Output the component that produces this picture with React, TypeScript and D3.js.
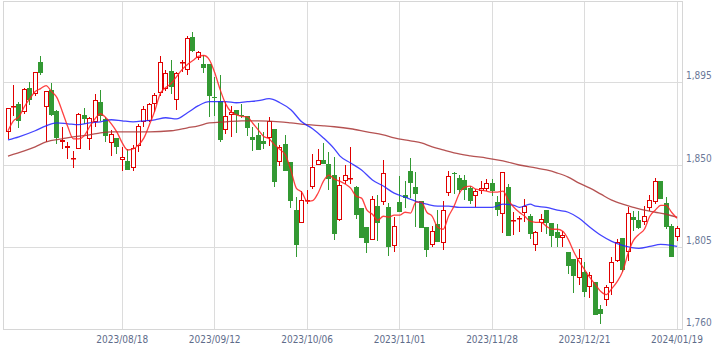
import React, { useEffect, useRef } from 'react';
import * as d3 from 'd3';

// daily candles, oldest first
const openPrices = [
  1868.1, 1881.8, 1883.5, 1879.1, 1892.3, 1889.0, 1906.0, 1881.8, 1891.2, 1879.6,
  1862.6, 1859.3, 1853.3, 1858.8, 1877.4, 1864.3, 1873.6, 1884.6, 1875.2, 1862.1,
  1864.8, 1852.7, 1852.2, 1848.3, 1860.4, 1873.6, 1874.1, 1883.5, 1889.5, 1891.7,
  1901.6, 1885.7, 1906.0, 1902.1, 1919.7, 1908.7, 1905.4, 1904.9, 1887.0, 1885.1,
  1869.2, 1877.4, 1880.2, 1877.1, 1876.9, 1865.4, 1866.5, 1863.2, 1864.8, 1869.8,
  1851.6, 1861.5, 1851.6, 1825.3, 1818.2, 1830.5, 1837.9, 1850.0, 1852.7, 1850.5,
  1844.5, 1819.8, 1841.2, 1842.6, 1837.9, 1826.4, 1816.0, 1808.8, 1827.5, 1829.7,
  1826.9, 1805.5, 1829.7, 1833.5, 1846.7, 1837.9, 1830.2, 1816.0, 1806.1, 1817.6,
  1807.2, 1834.6, 1845.6, 1842.9, 1841.8, 1837.4, 1833.0, 1835.7, 1836.8, 1840.1,
  1829.7, 1823.1, 1837.9, 1819.6, 1820.7, 1823.7, 1822.0, 1806.1, 1818.2, 1825.3,
  1818.2, 1813.2, 1809.9, 1802.3, 1798.4, 1788.5, 1791.8, 1783.6, 1786.3, 1771.5,
  1776.5, 1785.8, 1797.3, 1809.9, 1802.3, 1821.5, 1819.8, 1818.7, 1826.4, 1829.7,
  1841.2, 1829.1, 1816.5, 1810.5
];
const highPrices = [
  1881.3, 1893.9, 1884.6, 1892.3, 1895.6, 1901.0, 1909.3, 1890.6, 1895.0, 1880.2,
  1870.9, 1862.6, 1857.7, 1878.6, 1881.3, 1876.3, 1889.0, 1891.2, 1876.3, 1869.2,
  1864.8, 1859.9, 1858.8, 1861.0, 1872.5, 1882.4, 1884.0, 1889.5, 1909.3, 1902.1,
  1907.1, 1901.0, 1907.6, 1920.2, 1922.4, 1912.0, 1909.8, 1904.9, 1898.3, 1899.4,
  1884.6, 1882.4, 1880.2, 1883.5, 1876.9, 1870.9, 1873.0, 1868.1, 1876.3, 1869.8,
  1861.0, 1866.5, 1851.6, 1832.4, 1835.7, 1836.3, 1856.0, 1858.8, 1862.1, 1857.1,
  1854.4, 1843.4, 1850.0, 1859.9, 1838.5, 1826.4, 1816.0, 1833.0, 1833.5, 1852.7,
  1829.1, 1821.5, 1844.0, 1841.2, 1853.8, 1846.2, 1830.2, 1816.0, 1816.5, 1825.3,
  1830.2, 1846.7, 1846.2, 1844.5, 1844.5, 1838.5, 1836.8, 1841.2, 1842.3, 1842.3,
  1833.0, 1846.2, 1839.6, 1824.2, 1822.0, 1831.3, 1823.1, 1813.8, 1823.1, 1825.3,
  1818.2, 1817.6, 1813.8, 1802.3, 1798.4, 1803.9, 1796.8, 1791.8, 1786.3, 1773.7,
  1784.7, 1799.5, 1809.4, 1809.9, 1826.9, 1824.8, 1824.8, 1827.5, 1833.5, 1842.9,
  1841.2, 1832.4, 1817.6, 1816.5
];
const lowPrices = [
  1864.3, 1876.9, 1870.3, 1878.0, 1882.9, 1887.9, 1898.9, 1862.6, 1876.9, 1861.5,
  1858.8, 1853.3, 1848.3, 1858.8, 1872.5, 1858.2, 1870.9, 1874.1, 1862.6, 1854.9,
  1856.0, 1846.7, 1847.3, 1846.7, 1857.1, 1870.9, 1873.6, 1879.1, 1887.9, 1890.6,
  1889.0, 1880.2, 1901.0, 1898.9, 1911.5, 1907.6, 1900.0, 1876.3, 1876.9, 1862.6,
  1867.0, 1865.4, 1867.6, 1875.8, 1865.9, 1857.7, 1858.2, 1858.8, 1860.4, 1837.9,
  1849.4, 1846.7, 1826.4, 1799.5, 1818.2, 1828.6, 1836.8, 1850.0, 1850.5, 1836.3,
  1808.8, 1819.3, 1839.6, 1839.6, 1820.4, 1809.9, 1801.7, 1808.8, 1808.3, 1828.0,
  1800.1, 1802.3, 1824.2, 1826.4, 1831.9, 1816.0, 1815.4, 1799.5, 1805.0, 1807.7,
  1803.4, 1833.0, 1834.1, 1834.1, 1830.8, 1828.6, 1826.9, 1834.1, 1835.7, 1833.0,
  1822.0, 1812.7, 1811.0, 1811.6, 1813.2, 1818.7, 1809.4, 1802.8, 1813.2, 1812.1,
  1805.0, 1805.0, 1805.0, 1790.7, 1780.3, 1784.7, 1778.1, 1777.6, 1768.2, 1763.3,
  1773.2, 1779.2, 1796.8, 1791.8, 1797.3, 1813.8, 1814.9, 1817.1, 1824.8, 1828.6,
  1831.3, 1814.9, 1799.5, 1808.3
];
const closePrices = [
  1881.3, 1882.4, 1874.1, 1891.7, 1885.7, 1901.0, 1900.0, 1890.6, 1877.4, 1864.8,
  1863.7, 1860.4, 1853.6, 1878.0, 1875.2, 1875.8, 1885.7, 1876.9, 1865.9, 1867.0,
  1859.9, 1854.4, 1847.3, 1859.3, 1871.4, 1880.7, 1883.5, 1888.4, 1906.5, 1900.5,
  1892.8, 1900.5, 1906.5, 1919.1, 1912.0, 1911.5, 1903.2, 1887.9, 1886.6, 1863.7,
  1876.9, 1879.1, 1877.4, 1876.7, 1870.3, 1863.7, 1858.2, 1861.5, 1874.1, 1840.7,
  1859.9, 1846.7, 1830.2, 1806.1, 1830.8, 1830.8, 1848.9, 1852.7, 1850.5, 1842.3,
  1812.1, 1839.0, 1844.5, 1842.9, 1822.6, 1809.9, 1807.2, 1831.3, 1818.2, 1845.6,
  1805.0, 1816.5, 1824.2, 1831.9, 1840.1, 1834.1, 1815.4, 1803.4, 1813.8, 1807.7,
  1825.3, 1844.0, 1845.1, 1836.3, 1836.3, 1830.2, 1835.7, 1837.4, 1840.1, 1835.7,
  1825.3, 1846.2, 1811.0, 1819.8, 1820.9, 1827.5, 1812.1, 1813.2, 1820.4, 1818.2,
  1811.0, 1809.9, 1811.6, 1795.1, 1789.6, 1799.0, 1780.9, 1790.2, 1768.2, 1768.8,
  1783.6, 1796.8, 1807.7, 1792.4, 1823.7, 1819.8, 1815.4, 1822.0, 1830.8, 1841.2,
  1831.3, 1816.0, 1799.5, 1815.4
];

// short moving average, one value per candle
const maShort = [
  1868.7, 1874.1, 1876.3, 1881.8, 1886.2, 1890.1, 1891.7, 1893.4, 1890.1, 1886.8,
  1879.1, 1870.9, 1864.3, 1864.3, 1865.9, 1870.9, 1875.2, 1878.0, 1875.8, 1872.5,
  1868.1, 1862.1, 1858.2, 1858.8, 1861.0, 1864.8, 1872.0, 1879.6, 1889.0, 1892.3,
  1894.5, 1898.3, 1902.1, 1904.9, 1907.1, 1909.3, 1909.8, 1907.6, 1900.5, 1891.2,
  1883.5, 1879.1, 1877.4, 1876.6, 1876.3, 1872.8, 1869.2, 1865.6, 1864.3, 1861.0,
  1858.5, 1855.5, 1847.3, 1837.4, 1835.2, 1830.2, 1830.5, 1834.6, 1841.2, 1844.5,
  1842.3, 1841.2, 1839.6, 1837.4, 1833.0, 1831.9, 1825.3, 1823.1, 1819.8, 1822.0,
  1821.5, 1822.6, 1822.6, 1824.2, 1823.7, 1829.7, 1829.7, 1824.2, 1822.0, 1816.0,
  1814.9, 1822.0, 1827.5, 1834.6, 1837.9, 1838.5, 1836.8, 1836.3, 1835.7, 1835.2,
  1835.2, 1835.7, 1830.8, 1826.9, 1824.2, 1822.0, 1819.3, 1818.7, 1818.7, 1816.5,
  1814.9, 1814.9, 1813.8, 1809.4, 1802.8, 1797.3, 1792.9, 1788.5, 1784.7, 1780.9,
  1779.2, 1782.5, 1786.3, 1791.8, 1801.7, 1808.8, 1812.1, 1814.9, 1822.0, 1825.3,
  1828.0, 1828.0, 1824.2, 1820.9
];

// medium moving average, read at these candle positions
const maMidIdx = [
  0, 2, 5, 7, 9, 11, 13, 15, 17, 19, 21, 23, 25, 27, 29, 31, 33, 35, 37, 40,
  42, 44, 46, 48, 50, 52, 54, 56, 58, 60, 61, 63, 65, 67, 69, 71, 73, 75, 77, 79,
  81, 83, 87, 89, 91, 93, 94, 96, 97, 99, 101, 103, 105, 107, 109, 111, 113, 116, 118, 120,
  122, 123
];
const maMid = [
  1863.7, 1865.4, 1868.7, 1871.4, 1873.0, 1872.5, 1872.0, 1873.0, 1873.6, 1874.7,
  1874.1, 1873.6, 1874.1, 1874.7, 1875.8, 1875.2, 1878.5, 1882.4, 1884.6, 1884.6,
  1884.0, 1884.6, 1885.1, 1886.2, 1884.0, 1880.2, 1873.6, 1869.8, 1864.8, 1858.8,
  1855.0, 1851.1, 1847.3, 1841.8, 1838.5, 1834.6, 1832.4, 1830.2, 1828.6, 1827.5,
  1827.5, 1826.9, 1826.9, 1826.9, 1828.6, 1828.0, 1826.9, 1828.6, 1827.5, 1826.9,
  1825.3, 1824.2, 1820.9, 1816.0, 1811.6, 1808.3, 1806.1, 1804.5, 1805.5, 1806.7,
  1806.1, 1805.5
];

// long moving average, read at these candle positions
const maLongIdx = [
  0, 3, 5, 7, 10, 12, 15, 17, 19, 22, 26, 30, 33, 35, 37, 40, 43, 46, 50, 52,
  55, 58, 60, 63, 66, 69, 71, 74, 76, 78, 80, 82, 85, 88, 91, 94, 97, 99, 101, 103,
  105, 107, 109, 111, 113, 115, 117, 119, 121, 123
];
const maLong = [
  1854.9, 1857.7, 1859.9, 1862.6, 1864.3, 1865.4, 1866.5, 1867.6, 1868.1, 1868.1,
  1868.1, 1868.7, 1870.3, 1871.4, 1873.0, 1873.6, 1874.1, 1874.1, 1873.6, 1873.0,
  1872.0, 1871.4, 1870.9, 1869.8, 1868.1, 1866.5, 1864.8, 1863.2, 1862.1, 1859.9,
  1858.2, 1856.6, 1855.0, 1853.8, 1852.2, 1850.0, 1848.4, 1847.3, 1845.6, 1843.4,
  1840.1, 1837.4, 1834.1, 1830.8, 1828.6, 1826.9, 1825.3, 1824.2, 1823.1, 1821.5
];

const dateTickIdx = [21, 38, 55, 72, 89, 106, 123];
const dateTickLabels = ['2023/08/18', '2023/09/12', '2023/10/06', '2023/11/01', '2023/11/28', '2023/12/21', '2024/01/19'];
const priceTicks = [1760, 1805, 1850, 1895];

const App = () => {
  const ref = useRef(null);

  useEffect(() => {
    const svg = d3.select(ref.current);
    svg.selectAll('*').remove();

    const left = 3.5, right = 682.5, top = 1.5, bottom = 329.5;
    const font = '"DejaVu Sans Condensed", "Liberation Sans", sans-serif';

    const x = d3.scaleLinear().domain([0, openPrices.length - 1]).range([8, 677]);
    const y = d3.scaleLinear().domain([1760, 1940]).range([329.8, 0.2]);

    // grid
    svg.append('g')
      .selectAll('line')
      .data(priceTicks)
      .enter()
      .append('line')
      .attr('x1', left).attr('x2', right)
      .attr('y1', d => Math.floor(y(d)) + 0.5)
      .attr('y2', d => Math.floor(y(d)) + 0.5)
      .attr('stroke', '#dcdcdc');

    svg.append('g')
      .selectAll('line')
      .data(dateTickIdx)
      .enter()
      .append('line')
      .attr('x1', d => Math.floor(x(d)) + 0.5)
      .attr('x2', d => Math.floor(x(d)) + 0.5)
      .attr('y1', top).attr('y2', bottom)
      .attr('stroke', '#dcdcdc');

    svg.append('rect')
      .attr('x', left).attr('y', top)
      .attr('width', right - left).attr('height', bottom - top)
      .attr('fill', 'none')
      .attr('stroke', '#d6d6d6');

    // candles
    const up = '#e00000';
    const down = '#339933';
    const g = svg.append('g');
    openPrices.forEach((o, i) => {
      const c = closePrices[i];
      const px = Math.floor(x(i));
      const rising = c >= o;
      const col = rising ? up : down;
      g.append('line')
        .attr('x1', px + 0.5).attr('x2', px + 0.5)
        .attr('y1', Math.round(y(highPrices[i])))
        .attr('y2', Math.round(y(lowPrices[i])))
        .attr('stroke', col);
      const yt = Math.round(y(Math.max(o, c)));
      const yb = Math.max(Math.round(y(Math.min(o, c))), yt + 1);
      if (rising) {
        g.append('rect')
          .attr('x', px - 1.5).attr('y', yt + 0.5)
          .attr('width', 4).attr('height', Math.max(yb - yt - 1, 0.5))
          .attr('fill', '#fff')
          .attr('stroke', up);
      } else {
        g.append('rect')
          .attr('x', px - 2).attr('y', yt)
          .attr('width', 5).attr('height', yb - yt)
          .attr('fill', down);
      }
    });

    // moving averages
    const lineLong = d3.line()
      .x((d, k) => x(maLongIdx[k]))
      .y(d => y(d))
      .curve(d3.curveMonotoneX);
    svg.append('path')
      .datum(maLong)
      .attr('fill', 'none')
      .attr('stroke', '#a83434')
      .attr('stroke-opacity', 0.85)
      .attr('stroke-width', 1.3)
      .attr('d', lineLong);

    const lineMid = d3.line()
      .x((d, k) => x(maMidIdx[k]))
      .y(d => y(d))
      .curve(d3.curveMonotoneX);
    svg.append('path')
      .datum(maMid)
      .attr('fill', 'none')
      .attr('stroke', '#2222ff')
      .attr('stroke-opacity', 0.85)
      .attr('stroke-width', 1.3)
      .attr('d', lineMid);

    const lineShort = d3.line()
      .x((d, k) => x(k))
      .y(d => y(d))
      .curve(d3.curveMonotoneX);
    svg.append('path')
      .datum(maShort)
      .attr('fill', 'none')
      .attr('stroke', '#ff2020')
      .attr('stroke-opacity', 0.85)
      .attr('stroke-width', 1.3)
      .attr('d', lineShort);

    // axis labels
    svg.append('g')
      .selectAll('text')
      .data(priceTicks)
      .enter()
      .append('text')
      .attr('x', 686)
      .attr('y', d => Math.floor(y(d)) - 3)
      .attr('font-family', font)
      .attr('font-size', 10)
      .attr('fill', '#6a7898')
      .text(d => d3.format(',')(d));

    svg.append('g')
      .selectAll('text')
      .data(dateTickIdx)
      .enter()
      .append('text')
      .attr('x', d => x(d))
      .attr('y', 343)
      .attr('text-anchor', 'middle')
      .attr('font-family', font)
      .attr('font-size', 10)
      .attr('fill', '#5e6c8a')
      .text((d, k) => dateTickLabels[k]);
  }, []);

  return (
    <svg
      ref={ref}
      width={721}
      height={353}
      style={{ position: 'absolute', left: 0, top: 0, background: '#fff' }}
    />
  );
};

export default App;
